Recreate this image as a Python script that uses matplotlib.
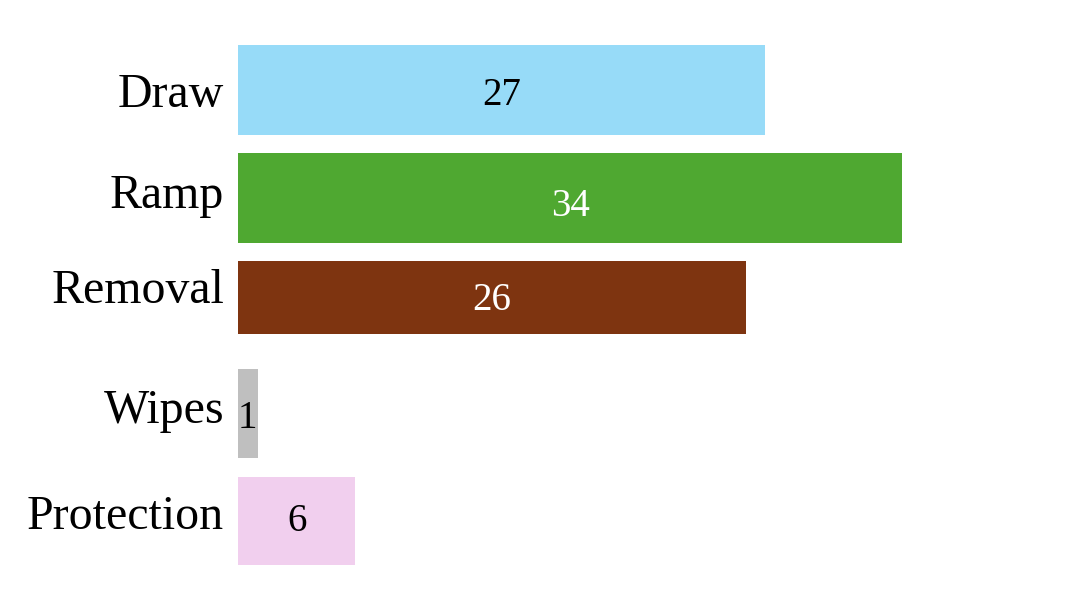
import matplotlib
matplotlib.use("Agg")
import matplotlib.pyplot as plt
from matplotlib.transforms import ScaledTranslation

# ---- data ----
categories = ["Draw", "Ramp", "Removal", "Wipes", "Protection"]
values = [27, 34, 26, 1, 6]
colors = ["#97dbf8", "#4fa831", "#7e3410", "#bfbfbf", "#f1cfee"]
label_colors = ["black", "white", "white", "black", "black"]

# ---- layout (pixel units on the vertical axis) ----
W, H = 1078, 595
DPI = 100
left_px = 238
px_per_unit = 19.53
bar_centers = [90.0, 198.0, 297.2, 413.3, 520.5]
bar_heights = [90, 90, 73, 89, 88]
cat_baselines = [106.7, 208.3, 303.0, 422.7, 529.3]
val_centers = [92.0, 203.0, 297.0, 415.0, 517.5]

plt.rcParams['font.family'] = ['Liberation Serif', 'DejaVu Serif']

fig = plt.figure(figsize=(W / DPI, H / DPI), dpi=DPI)
ax = fig.add_axes([left_px / W, 0, (W - left_px) / W, 1])
ax.set_xlim(0, (W - left_px) / px_per_unit)
ax.set_ylim(H, 0)
ax.axis("off")

ax.barh(bar_centers, values, height=bar_heights, color=colors, align="center")

cat_tr = ax.transData + ScaledTranslation(-14 / DPI, 0, fig.dpi_scale_trans)
val_size = 28
digit_half = val_size * DPI / 72 * 0.676 / 2
for cat, v, lc, cb, vc in zip(categories, values, label_colors, cat_baselines, val_centers):
    ax.text(0, cb, cat, transform=cat_tr, ha="right", va="baseline",
            fontsize=34.5, color="black")
    ax.text(v / 2, vc + digit_half, str(v), ha="center", va="baseline",
            fontsize=val_size, color=lc)

fig.savefig("out.png", dpi=DPI)
